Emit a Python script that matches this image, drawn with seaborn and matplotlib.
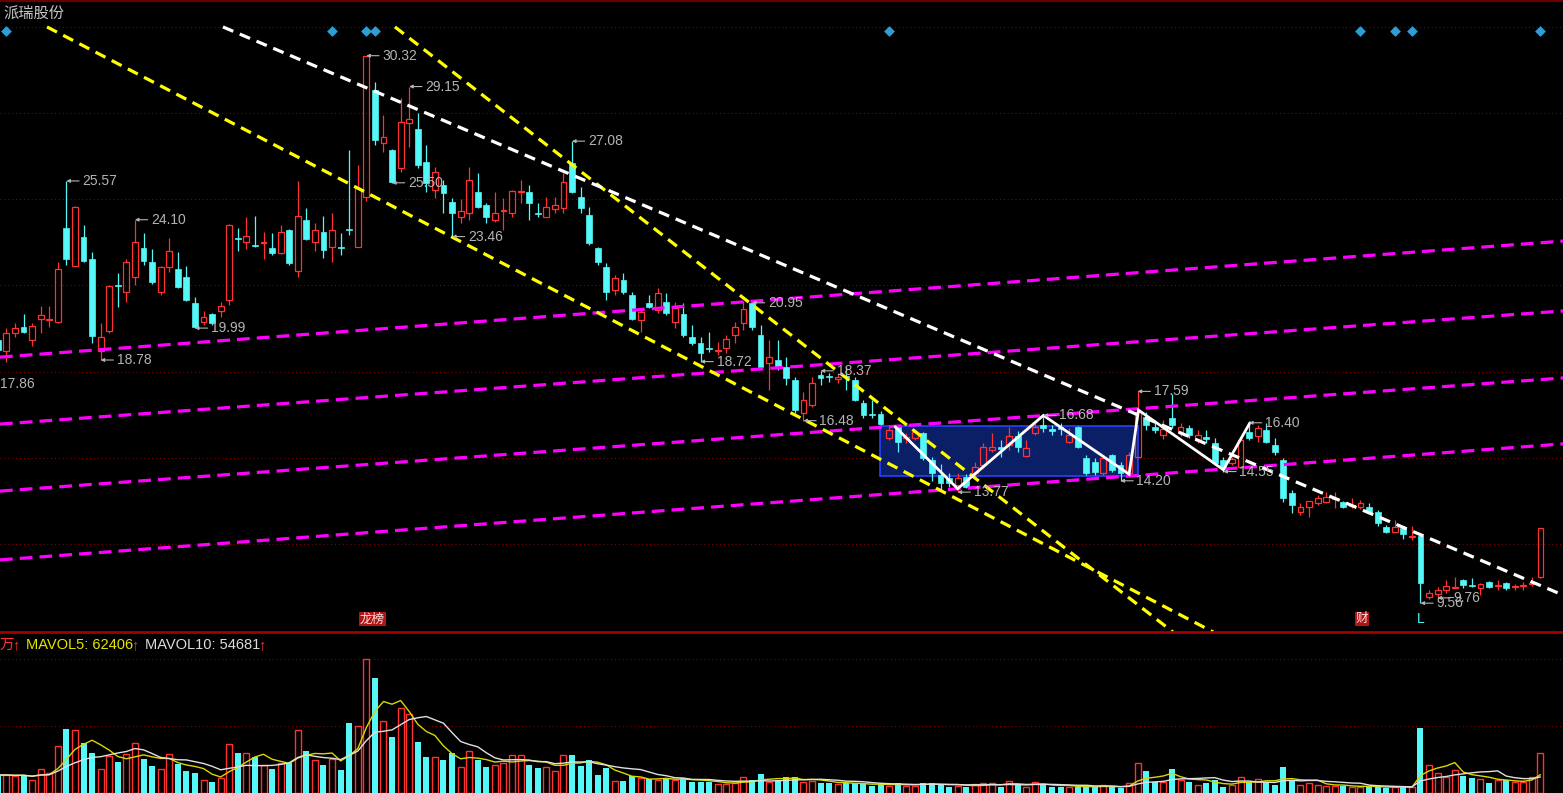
import numpy as np
import pandas as pd
import seaborn as sns
import matplotlib
matplotlib.use("Agg")
import matplotlib.pyplot as plt
from matplotlib.lines import Line2D
from matplotlib.patches import Rectangle

sns.set_style("dark")
plt.rcParams["font.family"] = ["Liberation Sans", "Noto Sans CJK SC", "DejaVu Sans"]

# ---------------- data ----------------
opens = [19.55, 19.14, 19.82, 20.05, 19.54, 20.34, 20.30, 20.24, 23.78, 22.35,
         23.44, 22.60, 19.14, 19.89, 21.64, 21.37, 21.94, 23.02, 22.51, 21.37,
         22.32, 22.24, 21.92, 20.93, 20.24, 20.53, 20.62, 21.06, 23.42, 23.27,
         23.15, 23.20, 23.02, 22.85, 23.71, 22.17, 24.09, 23.27, 23.65, 23.06,
         23.05, 23.75, 23.08, 24.97, 29.02, 27.02, 26.74, 26.05, 27.76, 27.53,
         26.30, 25.23, 25.42, 24.78, 24.21, 24.34, 25.16, 24.66, 24.09, 24.44,
         24.34, 25.14, 25.16, 24.36, 24.21, 24.50, 24.53, 26.26, 24.97, 24.28,
         23.02, 22.32, 21.44, 21.81, 21.25, 20.30, 20.93, 20.68, 20.99, 20.23,
         20.52, 19.66, 19.41, 19.22, 19.11, 19.22, 19.73, 20.17, 20.93, 19.73,
         18.65, 18.78, 18.53, 18.02, 16.76, 17.07, 18.21, 18.17, 18.05, 18.19,
         18.02, 17.16, 16.74, 16.73, 15.81, 16.25, 15.82, 15.81, 16.00, 15.00,
         14.42, 14.30, 14.04, 14.36, 14.48, 14.80, 15.37, 15.50, 15.56, 15.88,
         15.14, 16.00, 16.30, 16.18, 16.25, 15.68, 16.25, 15.05, 14.90, 14.48,
         15.18, 14.80, 14.48, 15.11, 16.63, 16.25, 15.95, 16.57, 16.06, 16.19,
         15.75, 15.85, 15.62, 14.99, 14.86, 14.74, 16.06, 15.88, 16.13, 15.56,
         14.99, 13.73, 13.03, 13.22, 13.37, 13.41, 13.50, 13.41, 13.25, 13.22,
         13.19, 13.03, 12.46, 12.27, 12.40, 12.05, 12.10, 9.78, 9.91, 10.06,
         10.15, 10.44, 10.25, 10.12, 10.37, 10.22, 10.31, 10.18, 10.22, 10.28,
         10.54]
highs = [19.75, 19.98, 20.17, 20.53, 20.17, 20.81, 20.81, 22.51, 25.57, 24.62,
         23.90, 22.89, 20.17, 21.62, 22.07, 22.60, 24.10, 23.59, 22.98, 22.35,
         23.40, 22.89, 22.35, 21.16, 20.62, 20.58, 20.99, 23.92, 23.78, 24.20,
         24.25, 23.65, 23.59, 23.90, 23.75, 25.55, 24.54, 23.97, 24.25, 24.35,
         23.59, 26.74, 26.18, 30.32, 29.33, 28.07, 26.78, 28.70, 29.15, 28.13,
         26.93, 26.11, 25.61, 24.93, 24.87, 26.11, 25.86, 24.72, 25.16, 24.93,
         25.22, 25.61, 25.42, 24.72, 24.97, 24.97, 25.86, 27.08, 25.35, 24.59,
         23.08, 22.45, 22.01, 22.07, 21.37, 20.74, 21.25, 21.50, 21.31, 20.99,
         20.93, 20.11, 19.66, 19.85, 19.47, 19.73, 20.23, 21.00, 20.95, 20.11,
         19.54, 19.54, 18.90, 18.15, 17.58, 18.15, 18.37, 18.30, 18.30, 18.50,
         18.15, 17.26, 17.26, 16.83, 16.32, 16.30, 16.00, 16.13, 16.06, 15.10,
         14.84, 14.50, 14.50, 14.46, 14.93, 15.62, 16.00, 15.75, 16.25, 16.07,
         15.75, 16.45, 16.68, 16.30, 16.40, 16.19, 16.27, 15.18, 15.05, 15.10,
         15.20, 14.90, 15.30, 17.59, 16.82, 16.45, 16.50, 17.50, 16.38, 16.32,
         16.13, 16.13, 15.81, 15.11, 15.11, 15.81, 16.40, 16.32, 16.38, 15.81,
         15.05, 13.85, 13.34, 13.45, 13.68, 13.77, 13.77, 13.45, 13.55, 13.47,
         13.37, 13.09, 12.53, 12.72, 12.47, 12.47, 12.15, 10.05, 10.18, 10.44,
         10.56, 10.46, 10.50, 10.33, 10.40, 10.44, 10.37, 10.30, 10.37, 10.56,
         12.42]
lows = [19.00, 18.72, 19.67, 19.80, 19.33, 19.82, 20.05, 20.20, 22.39, 22.33,
        22.50, 19.44, 18.78, 19.82, 20.78, 20.99, 21.63, 22.39, 21.67, 21.25,
        22.10, 21.50, 21.03, 19.99, 20.11, 20.11, 20.43, 20.87, 22.93, 22.98,
        23.06, 22.60, 22.77, 22.80, 22.40, 21.94, 23.33, 22.93, 22.64, 22.51,
        22.77, 23.52, 23.05, 24.80, 26.93, 26.68, 25.50, 25.90, 26.87, 26.05,
        25.16, 24.93, 24.34, 23.46, 23.96, 24.09, 24.53, 23.96, 24.02, 23.71,
        24.21, 24.72, 24.09, 24.21, 24.19, 24.34, 24.34, 25.10, 24.34, 23.15,
        22.38, 21.06, 21.25, 21.30, 20.30, 19.85, 20.74, 20.55, 20.49, 20.00,
        19.66, 19.35, 18.72, 19.09, 18.98, 19.03, 19.41, 19.92, 19.92, 18.50,
        17.64, 18.40, 17.84, 16.76, 16.48, 17.01, 17.84, 17.95, 17.90, 17.64,
        17.24, 16.57, 16.57, 16.30, 15.75, 15.30, 15.65, 15.75, 14.98, 14.20,
        13.85, 13.95, 13.77, 13.92, 14.36, 14.67, 15.30, 15.10, 15.37, 15.30,
        15.11, 15.94, 16.05, 15.95, 15.95, 15.62, 15.43, 14.42, 14.42, 14.42,
        14.55, 14.20, 14.40, 15.05, 16.13, 16.00, 15.80, 16.19, 15.88, 15.81,
        15.62, 15.62, 14.80, 14.55, 14.80, 14.67, 15.75, 15.68, 15.62, 15.18,
        13.40, 12.98, 12.90, 12.84, 13.28, 13.34, 13.15, 13.15, 13.15, 13.12,
        12.97, 12.47, 12.21, 12.25, 12.00, 11.97, 9.56, 9.70, 9.76, 9.93,
        10.12, 10.12, 10.18, 9.88, 10.12, 10.07, 10.06, 10.06, 10.06, 10.20,
        10.52]
closes = [19.15, 19.79, 19.98, 19.83, 20.07, 20.49, 20.33, 22.24, 22.60, 24.60,
          22.55, 19.70, 19.67, 21.59, 21.59, 22.51, 23.25, 22.54, 21.73, 22.32,
          22.93, 21.53, 21.06, 20.05, 20.43, 20.17, 20.81, 23.90, 23.38, 23.49,
          23.10, 23.24, 22.83, 23.65, 22.45, 24.25, 23.36, 23.71, 22.96, 23.71,
          23.02, 23.70, 25.29, 30.32, 27.12, 27.25, 25.54, 27.82, 27.91, 26.18,
          25.48, 25.92, 25.10, 24.34, 24.44, 25.61, 24.59, 24.21, 24.34, 24.47,
          25.20, 25.18, 24.72, 24.32, 24.59, 24.66, 25.54, 25.16, 24.53, 23.21,
          22.51, 21.37, 21.88, 21.37, 20.32, 20.61, 20.80, 21.31, 20.55, 20.74,
          19.73, 19.41, 19.03, 19.18, 19.15, 19.57, 20.04, 20.70, 20.04, 18.53,
          18.90, 18.53, 18.09, 16.88, 17.26, 17.92, 18.09, 18.13, 18.13, 18.15,
          17.26, 16.70, 16.70, 16.35, 16.13, 15.68, 15.86, 16.06, 15.05, 14.50,
          14.10, 14.10, 14.30, 13.98, 14.71, 15.49, 15.49, 15.40, 15.88, 15.49,
          15.43, 16.25, 16.20, 16.10, 16.15, 15.94, 15.49, 14.48, 14.55, 15.05,
          14.61, 14.48, 15.18, 16.82, 16.32, 16.13, 16.15, 16.32, 16.25, 15.94,
          15.94, 15.78, 14.86, 14.67, 15.01, 15.75, 15.81, 16.19, 15.68, 15.30,
          13.55, 13.28, 13.22, 13.43, 13.56, 13.58, 13.55, 13.19, 13.30, 13.37,
          13.03, 12.59, 12.27, 12.46, 12.18, 12.10, 10.31, 9.93, 10.06, 10.21,
          10.19, 10.25, 10.20, 10.28, 10.18, 10.26, 10.12, 10.22, 10.26, 10.33,
          12.40]
volumes = [61300, 61300, 57900, 61300, 44300, 81700, 68100, 160000, 216900, 215000,
           169200, 137200, 81700, 126000, 106600, 131800, 169200, 115800, 91900, 80700,
           131800, 97700, 74900, 67100, 44300, 36400, 50100, 165800, 137200, 137200,
           123600, 95300, 81700, 101100, 101100, 214500, 144000, 112400, 95300, 114700,
           78300, 237300, 228100, 456300, 390600, 245200, 191700, 290400, 269000, 174700,
           121600, 123600, 112400, 137200, 87500, 144000, 112400, 87500, 95300, 103200,
           129400, 129400, 95300, 84100, 87500, 74900, 129400, 129400, 91900, 112400,
           61300, 84100, 40900, 40900, 57900, 50100, 46600, 44300, 50100, 44300,
           50100, 38500, 38500, 38500, 29600, 29600, 33000, 53500, 44300, 64700,
           38500, 44300, 53500, 53500, 38500, 41900, 35100, 35100, 29600, 33000,
           33000, 29600, 24900, 30600, 24900, 35100, 24900, 24900, 35100, 35100,
           29600, 21500, 23800, 21500, 29600, 33000, 33000, 21500, 40900, 29600,
           21500, 36400, 27200, 21500, 21500, 21500, 21500, 21500, 19400, 27200,
           21500, 16000, 35100, 103200, 74900, 38500, 38500, 81700, 44300, 36400,
           27200, 33000, 44300, 19400, 27200, 55500, 38500, 47700, 38500, 27200,
           87500, 44300, 27200, 33000, 27200, 24900, 24900, 24900, 19400, 19400,
           24900, 21500, 16000, 19400, 21500, 19400, 220300, 95300, 69100, 55500,
           78300, 57900, 52100, 47700, 33000, 44300, 44300, 38500, 38500, 55500,
           135200]

# marked highs / lows: (candle index, price, text)
label_idx = [43, 48, 67, 8, 46, 16, 53, 88, 23, 12, 82, 96, -1.65, 133, 122, 94, 146, 143, 131, 112, 166, 168]
label_price = [30.32, 29.15, 27.08, 25.57, 25.50, 24.10, 23.46, 20.95, 19.99, 18.78, 18.72, 18.37,
               17.86, 17.59, 16.68, 16.48, 16.40, 14.55, 14.20, 13.77, 9.56, 9.76]
label_text = ["30.32", "29.15", "27.08", "25.57", "25.50", "24.10", "23.46", "20.95", "19.99", "18.78",
              "18.72", "18.37", "17.86", "17.59", "16.68", "16.48", "16.40", "14.55", "14.20", "13.77",
              "9.56", "9.76"]

# drawn trend lines: (start index, start price, end index, end price)
yellow_lines = [(5.74, 31.41, 141.8, 8.47), (46.34, 31.41, 137.1, 8.47)]
white_line = (26.27, 31.41, 182.6, 9.87)
magenta_lines = [(0.25, 18.89, 182.63, 23.29), (0.25, 16.35, 182.63, 20.64),
                 (0.25, 13.81, 182.63, 18.10), (0.25, 11.20, 182.63, 15.60)]
zigzag_idx = [104.7, 112.0, 122.0, 132.0, 133.1, 143.0, 146.1]
zigzag_price = [16.25, 13.90, 16.68, 14.45, 16.88, 14.62, 16.40]
box_range = (102.9, 133.05, 14.38, 16.28)
diamond_idx = [1, 39, 43, 44, 104, 159, 163, 165, 180]
grid_price = [31.41, 28.15, 24.88, 21.62, 18.32, 15.06, 11.80]
vol_grid = [228000, 456000]

RED = "#ff3232"
CYAN = "#54f8f8"
GRID = "#7c0000"

df = pd.DataFrame({"o": opens, "h": highs, "l": lows, "c": closes, "v": volumes})
df["i"] = np.arange(len(df))
df["up"] = df["c"] >= df["o"]
df["top"] = df[["o", "c"]].max(axis=1)
df["bot"] = df[["o", "c"]].min(axis=1)
df["body"] = (df["top"] - df["bot"]).clip(lower=0.035)
df["ma5"] = df["v"].rolling(5, min_periods=1).mean()
df["ma10"] = df["v"].rolling(10, min_periods=1).mean()

fig = plt.figure(figsize=(15.63, 7.93), dpi=100, facecolor="black")
ax = fig.add_axes([0, 161 / 793, 1, 632 / 793])
axv = fig.add_axes([0, 0, 1, 160 / 793])
for a in (ax, axv):
    a.set_facecolor("black")
    a.set_xlim(0.253, 182.63)
    a.set_xticks([])
    a.set_yticks([])
    for s in a.spines.values():
        s.set_visible(False)
ax.set_ylim(8.466, 32.432)
axv.set_ylim(0, 544800)

# grid
for g in grid_price:
    ax.axhline(g, color=GRID, lw=0.8, ls=(0, (1, 2.5)), zorder=0.5)
for g in vol_grid:
    axv.axhline(g, color=GRID, lw=0.8, ls=(0, (1, 2.5)), zorder=0.5)

# consolidation box
b0, b1, p0, p1 = box_range
ax.add_patch(Rectangle((b0, p0), b1 - b0, p1 - p0, facecolor="#0a1f66",
                       edgecolor="#2a40ff", lw=1.2, zorder=1))

# candles
up = df[df["up"]]
dn = df[~df["up"]]
ax.vlines(up["i"], up["top"], up["h"], color=RED, lw=0.9, zorder=2)
ax.vlines(up["i"], up["l"], up["bot"], color=RED, lw=0.9, zorder=2)
ax.bar(up["i"], up["body"], bottom=up["bot"], width=0.68, facecolor="none",
       edgecolor=RED, lw=0.9, zorder=2)
ax.vlines(dn["i"], dn["l"], dn["h"], color=CYAN, lw=0.9, zorder=2)
ax.bar(dn["i"], dn["body"], bottom=dn["bot"], width=0.68, color=CYAN,
       edgecolor=CYAN, lw=0.5, zorder=2)

# trend lines
for x0, y0, x1, y1 in magenta_lines:
    sns.lineplot(x=[x0, x1], y=[y0, y1], ax=ax, color="#ff00ff", lw=2.3,
                 ls=(0, (4, 2.2)), zorder=3)
for x0, y0, x1, y1 in yellow_lines:
    sns.lineplot(x=[x0, x1], y=[y0, y1], ax=ax, color="#ffff00", lw=2.3,
                 ls=(0, (3.5, 2.2)), zorder=3)
x0, y0, x1, y1 = white_line
sns.lineplot(x=[x0, x1], y=[y0, y1], ax=ax, color="white", lw=2.3,
             ls=(0, (3.5, 2.2)), zorder=3)
ax.plot(zigzag_idx, zigzag_price, color="white", lw=2.0, zorder=4, solid_joinstyle="miter")

# high / low labels
for xi, pr, tx in zip(label_idx, label_price, label_text):
    ax.annotate(tx, xy=(xi, pr), xytext=(11.5, 0), textcoords="offset points",
                ha="left", va="center", fontsize=10, color="#b4b4b4", zorder=5,
                annotation_clip=False,
                arrowprops=dict(arrowstyle="-|>", color="#b4b4b4", lw=0.8,
                                shrinkA=0, shrinkB=0, mutation_scale=5))

# top diamonds
ax.scatter(diamond_idx, [31.26] * len(diamond_idx), marker="D", s=30,
           color="#2f9ed6", zorder=5, linewidths=0)

ax.text(0.002, 1 - 14 / 632, "派瑞股份", transform=ax.transAxes, fontsize=11,
        color="#c8c8c8", va="center", ha="left")

# event tags
ax.text(43.7, 8.95, "龙榜", fontsize=9, color="#ffdede", ha="center", va="center",
        bbox=dict(boxstyle="square,pad=0.08", fc="#b01515", ec="none"), zorder=6)
ax.text(159.2, 8.95, "财", fontsize=9, color="#ffdede", ha="center", va="center",
        bbox=dict(boxstyle="square,pad=0.08", fc="#b01515", ec="none"), zorder=6)
ax.text(166.0, 8.95, "L", fontsize=10, color=CYAN, ha="center", va="center", zorder=6)

# volume bars
vu = df[df["up"]]
vd = df[~df["up"]]
axv.bar(vu["i"], vu["v"], width=0.7, facecolor="none", edgecolor=RED, lw=1.0, zorder=2)
axv.bar(vd["i"], vd["v"], width=0.7, color=CYAN, lw=0, zorder=2)
sns.lineplot(x=df["i"], y=df["ma5"], ax=axv, color="#d8d800", lw=1.0, zorder=3)
sns.lineplot(x=df["i"], y=df["ma10"], ax=axv, color="#e0e0e0", lw=1.0, zorder=3)
axv.set_xlabel("")
axv.set_ylabel("")
ax.set_xlabel("")
ax.set_ylabel("")

ty = 1 - 12 / 160
pieces = [(0, "万", RED), (12, "↑", RED), (26, "MAVOL5: 62406", "#e6e600"), (131, "↑", RED),
          (145, "MAVOL10: 54681", "#dcdcdc"), (258, "↑", RED)]
for px, tx, col in pieces:
    axv.text(px / 1563, ty, tx, transform=axv.transAxes, fontsize=10.5, color=col,
             ha="left", va="center")

# panel separators
fig.add_artist(Line2D([0, 1], [161 / 793, 161 / 793], transform=fig.transFigure,
                      color="#a00000", lw=2))
fig.add_artist(Line2D([0, 1], [0.999, 0.999], transform=fig.transFigure,
                      color="#6a0000", lw=1.5))

fig.savefig("out.png", dpi=100, facecolor="black")
